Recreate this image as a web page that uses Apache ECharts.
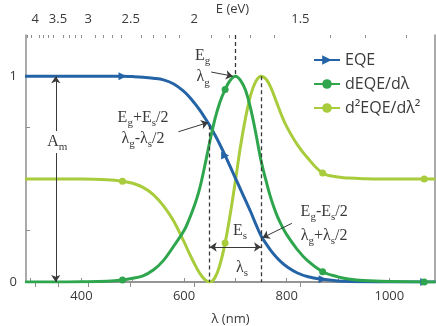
<!DOCTYPE html>
<html>
<head>
<meta charset="utf-8">
<script src="https://cdn.jsdelivr.net/npm/echarts@6/dist/echarts.min.js"></script>
<style>
  html, body { margin: 0; padding: 0; background: #fff; }
  #chart { width: 436px; height: 326px; }
</style>
</head>
<body>
<div id="chart"></div>
<script>
// Wavelength grid (nm) shared by the three curves
const wavelength = [290, 350, 400, 450, 480, 500, 520, 540, 560, 580, 600, 610, 620, 630, 640, 650, 660, 670, 680, 690,
                    700, 710, 720, 730, 740, 750, 760, 770, 780, 790, 800, 820, 840, 870, 900, 920, 950, 1000, 1068, 1090];
// Normalised external quantum efficiency
const eqe = [1, 1, 1, 1, 1, 0.998, 0.995, 0.99, 0.982, 0.962, 0.925, 0.9, 0.87, 0.837, 0.8, 0.76, 0.715, 0.667, 0.615, 0.56,
             0.505, 0.45, 0.395, 0.34, 0.28, 0.225, 0.185, 0.15, 0.12, 0.095, 0.075, 0.045, 0.027, 0.013, 0.005, 0.003, 0.001, 0, 0, 0];
// First derivative (normalised)
const dEqe = [0, 0, 0.001, 0.004, 0.01, 0.018, 0.03, 0.058, 0.105, 0.175, 0.25, 0.305, 0.37, 0.45, 0.56, 0.68, 0.79, 0.875, 0.935, 0.98,
              1, 0.98, 0.93, 0.84, 0.72, 0.59, 0.49, 0.4, 0.33, 0.275, 0.23, 0.16, 0.105, 0.05, 0.025, 0.015, 0.007, 0.002, 0, 0];
// Second derivative (normalised, offset to 0.5)
const d2Eqe = [0.5, 0.5, 0.5, 0.497, 0.49, 0.48, 0.46, 0.425, 0.37, 0.295, 0.195, 0.14, 0.09, 0.045, 0.013, 0, 0.02, 0.085, 0.19, 0.33,
               0.49, 0.66, 0.8, 0.91, 0.975, 1, 0.985, 0.94, 0.875, 0.81, 0.755, 0.67, 0.605, 0.53, 0.51, 0.505, 0.502, 0.5, 0.5, 0.5];
// Wavelengths that carry a marker symbol
const markerWavelengths = [480, 680, 870, 1068];

// Axis ticks
const lambdaTicks = [300, 400, 500, 600, 700, 800, 900, 1000];
const lambdaLabels = [400, 600, 800, 1000];
const energyLabels = [4, 3.5, 3, 2.5, 2, 1.5];
const energyMinor = [4.2, 4.1, 3.9, 3.8, 3.7, 3.6, 3.4, 3.3, 3.2, 3.1, 2.9, 2.8, 2.7, 2.6, 2.4, 2.3, 2.2, 2.1,
                     1.9, 1.8, 1.7, 1.6, 1.4, 1.3, 1.2];
const yTicks = [0, 0.25, 0.5, 0.75, 1];
const yLabels = [0, 1];

// Band-gap parameters
const lambdaG = 700;
const lambdaS = 100;
const amplitudeLambda = 350;
const spreadArrowLevel = 0.17;

const HC = 1240; // eV·nm
const LMIN = 292, LMAX = 1089;

const colors = { eqe: '#2464a6', d1: '#2fa64d', d2: '#a8cc3c' };
const axisGray = '#8e8e8e';
const textGray = '#3a3a3a';
const serif = 'Liberation Serif';
const sans = 'Open Sans';

function valueAt(arr, w) { return arr[wavelength.indexOf(w)]; }

function buildData(vals) {
  return wavelength.map((w, i) => {
    const item = { value: [w, vals[i]] };
    if (!markerWavelengths.includes(w)) item.symbol = 'none';
    return item;
  });
}

const chart = echarts.init(document.getElementById('chart'), null, { renderer: 'canvas' });

const lineBase = {
  type: 'line',
  smooth: 0.4,
  showSymbol: true,
  symbolSize: 7,
  lineStyle: { width: 3 },
  animation: false,
  z: 3
};

const guideStyle = { type: [4, 3], color: '#3a3a3a', width: 1.3 };
const arrowStyle = { type: 'solid', color: '#3a3a3a', width: 1 };

const lLow = lambdaG - lambdaS / 2;
const lHigh = lambdaG + lambdaS / 2;

const option = {
  backgroundColor: '#fff',
  animation: false,
  grid: { left: 26, right: 1, top: 35, bottom: 44, outerBoundsMode: 'none', containLabel: false },
  legend: {
    data: ['EQE', 'dEQE/dλ', 'd²EQE/dλ²'],
    orient: 'vertical',
    left: 308,
    top: 46,
    itemGap: 6,
    itemWidth: 26,
    itemHeight: 12,
    textStyle: { fontFamily: sans, fontSize: 16, color: textGray, lineHeight: 18 },
    symbolRotate: 'inherit'
  },
  xAxis: [
    {
      type: 'value', min: LMIN, max: LMAX, position: 'bottom',
      name: 'λ (nm)', nameLocation: 'middle', nameGap: 31,
      nameTextStyle: { fontFamily: sans, fontSize: 13, color: textGray },
      axisLine: { lineStyle: { color: axisGray, width: 1.5 } },
      axisTick: { inside: true, length: 4, customValues: lambdaTicks, lineStyle: { color: axisGray } },
      axisLabel: { customValues: lambdaLabels, margin: 8, fontFamily: sans, fontSize: 13, color: textGray,
                   formatter: v => String(v) },
      splitLine: { show: false }
    },
    {
      type: 'value', min: LMIN, max: LMAX, position: 'top',
      axisLine: { lineStyle: { color: axisGray, width: 1.5 } },
      axisTick: { inside: true, length: 5, customValues: energyLabels.map(e => HC / e), lineStyle: { color: axisGray } },
      axisLabel: {
        customValues: energyLabels.map(e => HC / e), margin: 9,
        fontFamily: sans, fontSize: 13, color: textGray,
        formatter: v => String(Math.round(HC / v * 10) / 10)
      },
      splitLine: { show: false }
    },
    {
      type: 'value', min: LMIN, max: LMAX, position: 'top',
      axisLine: { show: false },
      axisTick: { inside: true, length: 3, customValues: energyMinor.map(e => HC / e), lineStyle: { color: axisGray } },
      axisLabel: { show: false },
      splitLine: { show: false }
    }
  ],
  yAxis: [
    {
      type: 'value', min: 0, max: 1.2,
      axisLine: { show: true, lineStyle: { color: axisGray, width: 1.5 } },
      axisTick: { show: true, inside: true, length: 4, customValues: yTicks, lineStyle: { color: axisGray } },
      axisLabel: { customValues: yLabels, margin: 9, fontFamily: sans, fontSize: 13, color: textGray },
      splitLine: { show: false }
    },
    {
      type: 'value', min: 0, max: 1.2, position: 'right',
      axisLine: { show: true, lineStyle: { color: axisGray, width: 1.5 } },
      axisTick: { show: false }, axisLabel: { show: false }, splitLine: { show: false }
    }
  ],
  series: [
    Object.assign({}, lineBase, {
      name: 'EQE', data: buildData(eqe), color: colors.eqe,
      symbol: 'triangle', symbolRotate: -90, symbolSize: [8, 8]
    }),
    Object.assign({}, lineBase, {
      name: 'dEQE/dλ', data: buildData(dEqe), color: colors.d1, symbol: 'circle'
    }),
    Object.assign({}, lineBase, {
      name: 'd²EQE/dλ²', data: buildData(d2Eqe), color: colors.d2, symbol: 'circle', z: 2
    }),
    {
      name: 'guides', type: 'line', data: [], animation: false, z: 1,
      markLine: {
        silent: true, animation: false, symbol: ['none', 'none'],
        label: { show: false },
        lineStyle: guideStyle,
        data: [
          [{ coord: [lambdaG, 1.2] }, { coord: [lambdaG, valueAt(dEqe, lambdaG)] }],
          [{ coord: [lLow, valueAt(eqe, lLow)] }, { coord: [lLow, 0] }],
          [{ coord: [lHigh, valueAt(d2Eqe, lHigh)] }, { coord: [lHigh, 0] }]
        ]
      }
    },
    {
      name: 'arrows', type: 'line', data: [], animation: false, z: 4,
      markLine: {
        silent: true, animation: false, symbol: ['none', 'arrow'], symbolSize: 7,
        label: { show: false },
        lineStyle: arrowStyle,
        data: [
          [{ coord: [653, 1.02] }, { coord: [lambdaG - 5, 1.0] }],
          [{ coord: [589, 0.73] }, { coord: [lLow - 3, valueAt(eqe, lLow) + 0.015] }],
          [{ coord: [810, 0.285] }, { coord: [lHigh + 3, valueAt(eqe, lHigh) - 0.01] }],
          [{ coord: [lLow, spreadArrowLevel], symbol: 'arrow' }, { coord: [lHigh, spreadArrowLevel] }],
          [{ coord: [amplitudeLambda, 1], symbol: 'arrow' }, { coord: [amplitudeLambda, 0] }]
        ]
      }
    }
  ]
};

chart.setOption(option);

// Text annotations placed in data coordinates
const annotations = [
  { at: [636, 1.10], text: 'E{s|g}' },
  { at: [637, 0.995], text: 'λ{s|g}' },
  { at: [520, 0.80], text: 'E{s|g}+E{s|s}/2' },
  { at: [520, 0.695], text: 'λ{s|g}-λ{s|s}/2' },
  { at: [873, 0.34], text: 'E{s|g}-E{s|s}/2' },
  { at: [873, 0.225], text: 'λ{s|g}+λ{s|s}/2' },
  { at: [709, 0.25], text: 'E{s|s}' },
  { at: [713, 0.07], text: 'λ{s|s}' },
  { at: [amplitudeLambda + 3, 0.68], text: 'A{s|m}', bg: true }
];

const graphics = annotations.map(a => {
  const p = chart.convertToPixel({ xAxisIndex: 0, yAxisIndex: 0 }, a.at);
  return {
    type: 'text', x: p[0], y: p[1], z: 10,
    style: {
      text: a.text,
      fontFamily: serif, fontSize: 16, fill: textGray,
      lineHeight: 22,
      align: 'center', verticalAlign: 'middle',
      backgroundColor: a.bg ? '#fff' : undefined,
      padding: a.bg ? [0, 1] : 0,
      rich: {
        s: { fontFamily: serif, fontSize: 11, fill: textGray, lineHeight: 11, verticalAlign: 'bottom' }
      }
    }
  };
});

// Title of the energy axis, centred above the plot
const gridRect = chart.getModel().getComponent('grid', 0).coordinateSystem.getRect();
graphics.push({
  type: 'text', x: gridRect.x + gridRect.width / 2 + 2, y: 9, z: 10,
  style: { text: 'E (eV)', fontFamily: sans, fontSize: 13, fill: textGray, align: 'center', verticalAlign: 'middle' }
});

chart.setOption({ graphic: graphics });
</script>
</body>
</html>
